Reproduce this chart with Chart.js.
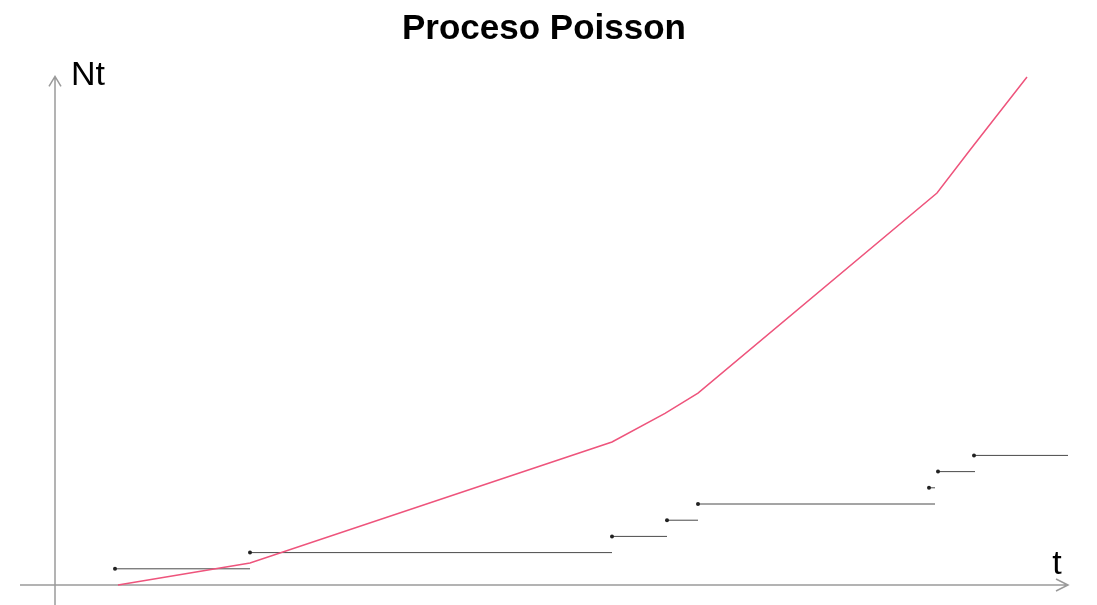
<!DOCTYPE html>
<html>
<head>
<meta charset="utf-8">
<script src="https://cdn.jsdelivr.net/npm/chart.js@4.4.1/dist/chart.umd.min.js"></script>
<style>
html,body{margin:0;padding:0;background:#fff;}
#wrap{width:1097px;height:605px;position:relative;}
</style>
</head>
<body>
<div id="wrap"><canvas id="c" width="1097" height="605"></canvas></div>
<script>
// Jump times (t) of the counting process, start of each step
const jumpTimes = [0.60, 1.95, 5.57, 6.12, 6.43, 8.74, 8.83, 9.19];
// End time of each step segment
const stepEnds = [1.95, 5.57, 6.12, 6.43, 8.80, 8.80, 9.20, 10.13];
// Count level of each step
const stepLevels = [1, 2, 3, 4, 5, 6, 7, 8];
// Red curve (t, N) vertices
const curveT = [0.63, 1.95, 5.57, 6.10, 6.43, 8.82, 9.15, 9.72];
const curveN = [0.00, 1.36, 8.83, 10.6, 11.85, 24.2, 26.85, 31.36];
const titleText = 'Proceso Poisson';
const yLabel = 'Nt';
const xLabel = 't';

const datasets = [];
datasets.push({
  label: 'curve',
  data: curveT.map((t, i) => ({x: t, y: curveN[i]})),
  showLine: true,
  borderColor: 'rgb(238,84,124)',
  borderWidth: 1.5,
  pointRadius: 0,
  tension: 0
});
jumpTimes.forEach((t0, i) => {
  datasets.push({
    label: 'step' + i,
    data: [{x: t0, y: stepLevels[i]}, {x: stepEnds[i], y: stepLevels[i]}],
    showLine: true,
    borderColor: '#4a4a4a',
    borderWidth: 1,
    pointRadius: [2, 0],
    pointBackgroundColor: '#222',
    pointBorderWidth: 0,
    tension: 0
  });
});

const axesPlugin = {
  id: 'axesArrows',
  beforeDatasetsDraw(chart) {
    const {ctx, chartArea, scales: {x, y}} = chart;
    const x0 = x.getPixelForValue(0), y0 = y.getPixelForValue(0);
    const xEnd = x.getPixelForValue(x.max), yTop = y.getPixelForValue(31.4);
    ctx.save();
    ctx.strokeStyle = '#9a9a9a';
    ctx.lineWidth = 1.5;
    ctx.beginPath();
    ctx.moveTo(chartArea.left, y0); ctx.lineTo(xEnd, y0);
    ctx.moveTo(xEnd - 12, y0 - 6); ctx.lineTo(xEnd, y0); ctx.lineTo(xEnd - 12, y0 + 6);
    ctx.moveTo(x0, chartArea.bottom); ctx.lineTo(x0, yTop);
    ctx.moveTo(x0 - 6, yTop + 10); ctx.lineTo(x0, yTop); ctx.lineTo(x0 + 6, yTop + 10);
    ctx.stroke();
    ctx.fillStyle = '#000';
    ctx.font = '34px "Liberation Sans", Arial, sans-serif';
    ctx.textBaseline = 'alphabetic';
    ctx.textAlign = 'left';
    ctx.fillText(yLabel, x0 + 16, yTop + 9);
    ctx.textAlign = 'center';
    ctx.fillText(xLabel, xEnd - 11, y0 - 11);
    ctx.restore();
  }
};

new Chart(document.getElementById('c'), {
  type: 'scatter',
  data: {datasets},
  options: {
    responsive: false,
    animation: false,
    layout: {autoPadding: false, padding: {left: 20, right: 29, top: 0, bottom: 0}},
    plugins: {
      legend: {display: false},
      tooltip: {enabled: false},
      title: {
        display: true,
        text: titleText,
        color: '#000',
        font: {family: '"Liberation Sans", Arial, sans-serif', size: 35, weight: 'bold', lineHeight: 1.2},
        padding: {top: 8, bottom: 10}
      }
    },
    scales: {
      x: {type: 'linear', display: false, min: -0.35, max: 10.13},
      y: {type: 'linear', display: false, min: -1.2346, max: 32.41}
    }
  },
  plugins: [axesPlugin]
});
</script>
</body>
</html>
